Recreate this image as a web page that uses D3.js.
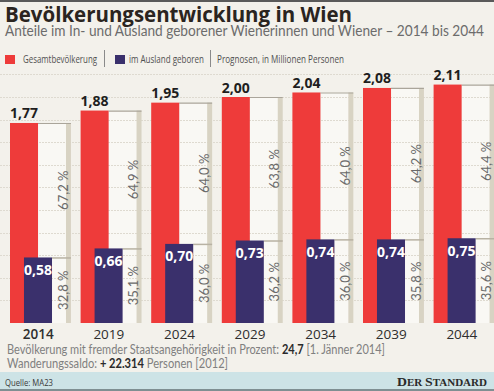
<!DOCTYPE html>
<html><head><meta charset="utf-8">
<script src="https://cdn.jsdelivr.net/npm/d3@7"></script>
<style>
html,body{margin:0;padding:0;background:#f3f1eb;}
svg{display:block;}
</style></head>
<body>
<script>
const years = ["2014","2019","2024","2029","2034","2039","2044"];
const total = [1.77,1.88,1.95,2.00,2.04,2.08,2.11];
const foreign = [0.58,0.66,0.70,0.73,0.74,0.74,0.75];
const pctNative = ["67,2 %","64,9 %","64,0 %","63,8 %","64,0 %","64,2 %","64,4 %"];
const pctForeign = ["32,8 %","35,1 %","36,0 %","36,2 %","36,0 %","35,8 %","35,6 %"];
const gridTicks = [0.2,0.4,0.6,0.8,1.0,1.2,1.4,1.6,1.8,2.0,2.2];

const W = 494, H = 391;
const RED = "#ee3b3a", BLUE = "#3a306c";
const fmt = v => d3.format(".2f")(v).replace(".", ",");

const svg = d3.select("body").append("svg").attr("width", W).attr("height", H);
svg.append("rect").attr("width", W).attr("height", H).attr("fill", "#f3f1eb");
svg.append("rect").attr("x",0).attr("y",0).attr("width",W).attr("height",2).attr("fill","#5a5a5a");

// Title & subtitle
svg.append("text").attr("x",5).attr("y",21.5)
  .attr("font-family","'Open Sans', sans-serif").attr("font-weight",700).attr("font-size",22)
  .attr("fill","#2a2420").attr("textLength",347).attr("lengthAdjust","spacingAndGlyphs")
  .text("Bevölkerungsentwicklung in Wien");
svg.append("text").attr("x",5).attr("y",36)
  .attr("font-family","Lato, sans-serif").attr("font-size",15)
  .attr("fill","#6c6c6c").attr("textLength",479).attr("lengthAdjust","spacingAndGlyphs")
  .text("Anteile im In- und Ausland geborener Wienerinnen und Wiener – 2014 bis 2044");

// Legend
const leg = svg.append("g").attr("font-family","'Open Sans', sans-serif").attr("font-size",10).attr("fill","#505050");
leg.append("rect").attr("x",5).attr("y",55).attr("width",10).attr("height",9).attr("fill",RED);
leg.append("text").attr("x",23).attr("y",63).attr("textLength",74).attr("lengthAdjust","spacingAndGlyphs").text("Gesamtbevölkerung");
leg.append("line").attr("x1",104.5).attr("x2",104.5).attr("y1",50).attr("y2",67).attr("stroke","#8a8a8a");
leg.append("rect").attr("x",115).attr("y",55).attr("width",10).attr("height",9).attr("fill",BLUE);
leg.append("text").attr("x",129).attr("y",63).attr("textLength",75).attr("lengthAdjust","spacingAndGlyphs").text("im Ausland geboren");
leg.append("line").attr("x1",210.5).attr("x2",210.5).attr("y1",50).attr("y2",67).attr("stroke","#8a8a8a");
leg.append("text").attr("x",217).attr("y",63).attr("textLength",127).attr("lengthAdjust","spacingAndGlyphs").text("Prognosen, in Millionen Personen");

// Scales
const y = d3.scaleLinear().domain([0, 2.2]).range([323, 74.4]);
const x = d3.scaleBand().domain(years).range([10, 10 + 7*70.6]).padding(0);
const bw = x.bandwidth();
const redW = bw*0.397, blueOff = bw*0.198, blueW = bw*0.397, stripL = bw*0.793, stripW = bw*0.07;

const data = years.map((yr,i)=>({yr, t: total[i], f: foreign[i], pn: pctNative[i], pf: pctForeign[i]}));

// White boxes
svg.append("g").selectAll("rect").data(data).join("rect")
  .attr("x", d => x(d.yr) + redW).attr("y", d => y(d.t))
  .attr("width", stripL - redW).attr("height", d => y(0) - y(d.t))
  .attr("fill", "#f9f8f4");

// Grid
svg.append("g").selectAll("line").data(gridTicks).join("line")
  .attr("x1",0).attr("x2",W).attr("y1", d => Math.round(y(d))+0.5).attr("y2", d => Math.round(y(d))+0.5)
  .attr("stroke","#dedad0").attr("stroke-width",1).attr("stroke-dasharray","2,1");

// Tan strips
svg.append("g").selectAll("rect").data(data).join("rect")
  .attr("x", d => x(d.yr) + stripL).attr("y", d => y(d.t))
  .attr("width", stripW).attr("height", d => y(0) - y(d.t))
  .attr("fill", "#d8d3c3");

// Top lines of boxes
svg.append("g").selectAll("line").data(data).join("line")
  .attr("x1", d => x(d.yr) + redW).attr("x2", d => x(d.yr) + stripL + stripW)
  .attr("y1", d => y(d.t)+0.5).attr("y2", d => y(d.t)+0.5)
  .attr("stroke","#aaa59a").attr("stroke-width",1.2);
svg.append("g").selectAll("line").data(data).join("line")
  .attr("x1", d => x(d.yr) + blueOff + blueW).attr("x2", d => x(d.yr) + stripL + stripW)
  .attr("y1", d => y(d.f)+0.5).attr("y2", d => y(d.f)+0.5)
  .attr("stroke","#b8b2a3").attr("stroke-width",1.5);

// Red bars
svg.append("g").selectAll("rect").data(data).join("rect")
  .attr("x", d => x(d.yr)).attr("y", d => y(d.t))
  .attr("width", redW).attr("height", d => y(0) - y(d.t)).attr("fill", RED);
// Blue bars
svg.append("g").selectAll("rect").data(data).join("rect")
  .attr("x", d => x(d.yr) + blueOff).attr("y", d => y(d.f))
  .attr("width", blueW).attr("height", d => y(0) - y(d.f)).attr("fill", BLUE);

// Value labels
svg.append("g").selectAll("text").data(data).join("text")
  .attr("x", d => x(d.yr) + redW/2).attr("y", d => y(d.t) - 4.5)
  .attr("text-anchor","middle").attr("font-family","'Open Sans', sans-serif").attr("font-weight",700)
  .attr("font-size",14).attr("fill","#1e1e1e").text(d => fmt(d.t));
svg.append("g").selectAll("text").data(data).join("text")
  .attr("x", d => x(d.yr) + blueOff + blueW/2).attr("y", d => y(d.f) + 17.5)
  .attr("text-anchor","middle").attr("font-family","'Open Sans', sans-serif").attr("font-weight",700)
  .attr("font-size",14).attr("fill","#ffffff").text(d => fmt(d.f));

// Percentage labels (rotated)
const pctX = bw*0.745;
svg.append("g").selectAll("text").data(data).join("text")
  .attr("transform", d => `translate(${x(d.yr)+pctX},${(y(d.t)+y(d.f))/2}) rotate(-90)`)
  .attr("text-anchor","middle").attr("dominant-baseline","central")
  .attr("font-family","Lato, sans-serif").attr("font-weight",400).attr("font-size",13)
  .attr("fill","#6a6a6a").text(d => d.pn);
svg.append("g").selectAll("text").data(data).join("text")
  .attr("transform", d => `translate(${x(d.yr)+pctX},${(y(d.f)+y(0))/2}) rotate(-90)`)
  .attr("text-anchor","middle").attr("dominant-baseline","central")
  .attr("font-family","Lato, sans-serif").attr("font-weight",400).attr("font-size",13)
  .attr("fill","#6a6a6a").text(d => d.pf);

// Year labels
svg.append("g").selectAll("text").data(years).join("text")
  .attr("x", d => x(d) + bw*0.4).attr("y", 339)
  .attr("text-anchor","middle").attr("font-family","'Open Sans', sans-serif")
  .attr("font-weight", (d,i) => i===0 ? 600 : 400)
  .attr("font-size",13.5).attr("fill","#2e2e2e").text(d => d);

// Footer notes
const f1 = svg.append("text").attr("x",7).attr("y",353.5).attr("font-family","Lato, sans-serif")
  .attr("font-size",12.5).attr("fill","#808080").attr("textLength",378).attr("lengthAdjust","spacingAndGlyphs");
f1.append("tspan").text("Bevölkerung mit fremder Staatsangehörigkeit in Prozent: ");
f1.append("tspan").attr("font-weight",700).attr("fill","#2a2a2a").text("24,7");
f1.append("tspan").text("  [1. Jänner 2014]");
const f2 = svg.append("text").attr("x",7).attr("y",368).attr("font-family","Lato, sans-serif")
  .attr("font-size",12.5).attr("fill","#808080").attr("textLength",221).attr("lengthAdjust","spacingAndGlyphs");
f2.append("tspan").text("Wanderungssaldo: ");
f2.append("tspan").attr("font-weight",700).attr("fill","#2a2a2a").text("+ 22.314");
f2.append("tspan").text(" Personen [2012]");

// Bottom band
svg.append("rect").attr("x",0).attr("y",372).attr("width",W).attr("height",19).attr("fill","#cde3e6");
svg.append("rect").attr("x",0).attr("y",389).attr("width",W).attr("height",2).attr("fill","#7f8f92");
svg.append("text").attr("x",5).attr("y",385.5).attr("font-family","'Open Sans', sans-serif")
  .attr("font-size",9).attr("fill","#3a3a3a").attr("textLength",48).attr("lengthAdjust","spacingAndGlyphs")
  .text("Quelle: MA23");
const ds = svg.append("text").attr("x",397).attr("y",386).attr("font-family","'Liberation Serif', 'DejaVu Serif', serif")
  .attr("font-weight",700).attr("fill","#2a2a2a").attr("textLength",90).attr("lengthAdjust","spacingAndGlyphs");
ds.append("tspan").attr("font-size",12.5).text("D");
ds.append("tspan").attr("font-size",10).text("ER ");
ds.append("tspan").attr("font-size",12.5).text("S");
ds.append("tspan").attr("font-size",10).text("TANDARD");
</script>
</body></html>
